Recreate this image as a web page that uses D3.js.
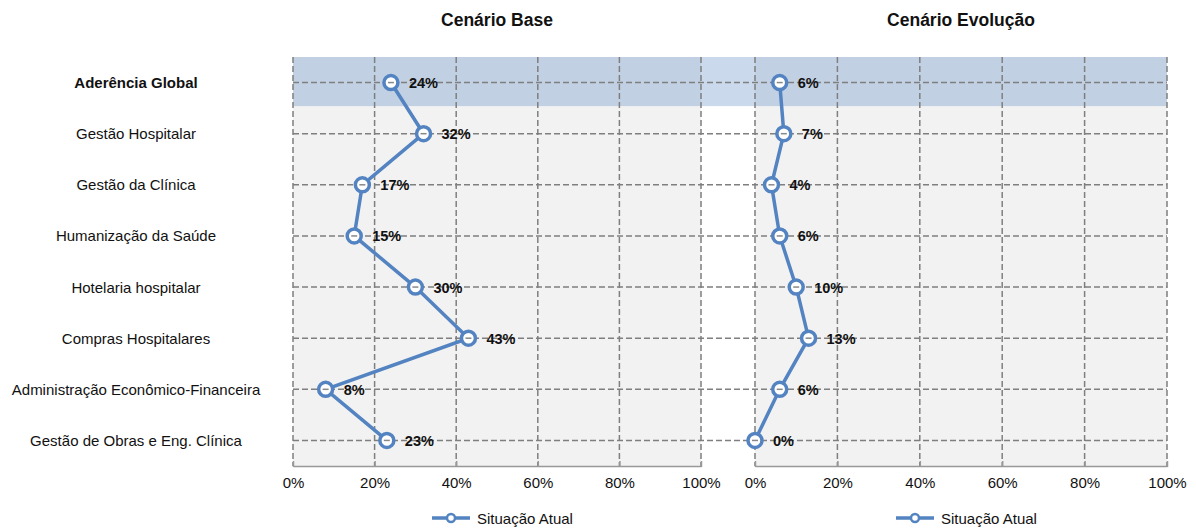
<!DOCTYPE html>
<html><head><meta charset="utf-8">
<script src="https://cdn.jsdelivr.net/npm/d3@7"></script>
<style>body{margin:0;background:#fff;font-family:"Liberation Sans",Arial,sans-serif;}</style>
</head><body><svg id="c" width="1196" height="529"></svg>
<script>
const categories = ["Aderência Global","Gestão Hospitalar","Gestão da Clínica","Humanização da Saúde","Hotelaria hospitalar","Compras Hospitalares","Administração Econômico-Financeira","Gestão de Obras e Eng. Clínica"];
const baseValues = [24,32,17,15,30,43,8,23];
const evolucaoValues = [6,7,4,6,10,13,6,0];
const tickValues = [0,20,40,60,80,100];
const panelTitles = ["Cenário Base","Cenário Evolução"];
const seriesName = "Situação Atual";

const svg = d3.select("#c");
const plotTop = 57, plotBottom = 466;
const blue = "#5383c1", grid = "#7f7f7f";
const y = d3.scaleBand().domain(categories).range([plotTop, plotBottom]);
const panels = [
  {title: panelTitles[0], values: baseValues, x: d3.scaleLinear().domain([0,100]).range([293,701])},
  {title: panelTitles[1], values: evolucaoValues, x: d3.scaleLinear().domain([0,100]).range([755,1167])}
];
const xL = panels[0].x(0), xR = panels[1].x(100);

panels.forEach(p => {
  svg.append("rect").attr("x", p.x(0)).attr("y", plotTop).attr("width", p.x(100)-p.x(0)).attr("height", plotBottom-plotTop).attr("fill", "#f2f2f2");
});
svg.append("rect").attr("x", xL).attr("y", y(categories[0])).attr("width", xR-xL).attr("height", y.bandwidth()-2)
  .attr("fill", "#4f81bd").attr("opacity", 0.3);

svg.selectAll(".hg").data(categories).enter().append("line")
  .attr("x1", xL).attr("x2", xR)
  .attr("y1", d => y(d)+y.bandwidth()/2).attr("y2", d => y(d)+y.bandwidth()/2)
  .attr("stroke", grid).attr("stroke-width", 1.5).attr("stroke-dasharray", "6,3");

panels.forEach(p => {
  svg.selectAll(null).data(tickValues).enter().append("line")
    .attr("x1", d => p.x(d)).attr("x2", d => p.x(d)).attr("y1", plotTop).attr("y2", plotBottom)
    .attr("stroke", grid).attr("stroke-width", 1.5).attr("stroke-dasharray", "6,3");
  const ax = d3.axisBottom(p.x).tickValues(tickValues).tickFormat(d => d + "%").tickSize(5).tickSizeOuter(0);
  const axg = svg.append("g").attr("transform", `translate(0,${plotBottom})`).call(ax);
  axg.select(".domain").attr("stroke", "#999").attr("stroke-width", 1.5);
  axg.selectAll(".tick line").attr("stroke", "#999").attr("stroke-width", 1.5).attr("y1", -5).attr("y2", 1);
  axg.selectAll(".tick text").attr("font-family", "Liberation Sans, Arial, sans-serif").attr("font-size", 15).attr("fill", "#111").attr("y", 11);
  svg.append("text").attr("x", (p.x(0)+p.x(100))/2).attr("y", 26).attr("text-anchor", "middle")
    .attr("font-weight", "bold").attr("font-size", 17.5).attr("fill", "#111").text(p.title);
  const pts = categories.map((c,i) => [p.x(p.values[i]), y(c)+y.bandwidth()/2]);
  svg.append("path").attr("d", d3.line()(pts)).attr("fill", "none").attr("stroke", blue).attr("stroke-width", 3.5);
  svg.selectAll(null).data(pts).enter().append("circle")
    .attr("cx", d => d[0]).attr("cy", d => d[1]).attr("r", 7)
    .attr("fill", "#fff").attr("stroke", blue).attr("stroke-width", 3.5);
  svg.selectAll(null).data(pts).enter().append("line")
    .attr("x1", d => d[0]-3).attr("x2", d => d[0]+3).attr("y1", d => d[1]).attr("y2", d => d[1])
    .attr("stroke", "#888").attr("stroke-width", 1.5);
  svg.selectAll(null).data(pts).enter().append("text")
    .attr("x", d => d[0]+18).attr("y", d => d[1]+5.5)
    .attr("font-weight", "bold").attr("font-size", 14.5).attr("fill", "#111")
    .text((d,i) => p.values[i] + "%");
  const lx = (p.x(0)+p.x(100))/2 - 65, ly = 518;
  svg.append("line").attr("x1", lx).attr("x2", lx+38).attr("y1", ly).attr("y2", ly).attr("stroke", blue).attr("stroke-width", 3.5);
  svg.append("circle").attr("cx", lx+19).attr("cy", ly).attr("r", 4).attr("fill", "#fff").attr("stroke", blue).attr("stroke-width", 2.5);
  svg.append("text").attr("x", lx+45).attr("y", ly+5.5).attr("font-size", 15).attr("fill", "#111").text(seriesName);
});

svg.selectAll(".cl").data(categories).enter().append("text")
  .attr("x", 136).attr("y", d => y(d)+y.bandwidth()/2+5.5).attr("text-anchor", "middle")
  .attr("font-size", 15).attr("fill", "#111")
  .attr("font-weight", (d,i) => i === 0 ? "bold" : "normal")
  .text(d => d);
</script></body></html>
